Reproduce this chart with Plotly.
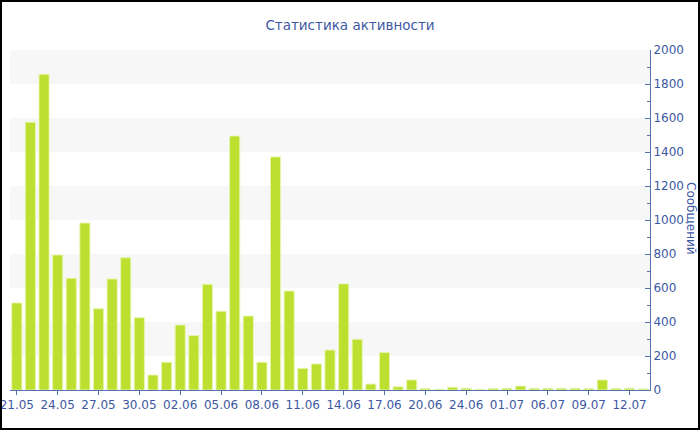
import plotly.graph_objects as go

dates = ["21.05", "22.05", "23.05", "24.05", "25.05", "26.05", "27.05", "28.05", "29.05", "30.05",
         "31.05", "01.06", "02.06", "03.06", "04.06", "05.06", "06.06", "07.06", "08.06", "09.06",
         "10.06", "11.06", "12.06", "13.06", "14.06", "15.06", "16.06", "17.06", "18.06", "19.06",
         "20.06", "21.06", "23.06", "24.06", "26.06", "29.06", "01.07", "03.07", "05.07", "06.07",
         "07.07", "08.07", "09.07", "10.07", "11.07", "12.07", "13.07"]
messages = [512, 1575, 1857, 794, 657, 982, 478, 653, 778, 425,
            88, 163, 382, 320, 622, 463, 1494, 435, 163, 1371,
            582, 127, 153, 235, 624, 298, 35, 220, 19, 59,
            8, 4, 16, 10, 4, 8, 10, 23, 10, 10,
            10, 10, 8, 59, 8, 10, 6]
tick_labels = dates[::3]
band_starts = [200, 600, 1000, 1400, 1800]
band_width = 200

title_text = "Статистика активности"
y_title = "Сообщений"

W, H = 700, 430
ml, mr, mt, mb = 10, 50, 50, 40
pw, ph = W - ml - mr, H - mt - mb

text_col = "#3d58a3"
line_col = "#5670b0"
font_family = "DejaVu Sans"

fig = go.Figure()
fig.add_trace(go.Bar(
    x=dates, y=messages,
    marker=dict(color="#bde030", line=dict(color="rgba(230,245,170,0.9)", width=1)),
    width=0.74,
))

shapes = []
for b in band_starts:
    shapes.append(dict(type="rect", xref="paper", yref="y", x0=0, x1=1, y0=b, y1=b + band_width,
                       fillcolor="#f7f7f7", line=dict(width=0), layer="below"))
# outer border of the whole image
shapes.append(dict(type="rect", xref="paper", yref="paper",
                   x0=(1 - ml) / pw, x1=1 + (mr - 1) / pw,
                   y0=-(mb - 1) / ph, y1=1 + (mt - 1) / ph,
                   line=dict(color="black", width=2), fillcolor="rgba(0,0,0,0)", layer="above"))

fig.update_layout(
    width=W, height=H,
    margin=dict(l=ml, r=mr, t=mt, b=mb, autoexpand=False),
    paper_bgcolor="white", plot_bgcolor="white",
    font=dict(family=font_family, size=12, color=text_col),
    title=dict(text=title_text, x=0.5, xref="container", xanchor="center", y=1 - 25 / H, yanchor="middle",
               font=dict(family=font_family, size=13.5, color=text_col)),
    showlegend=False,
    shapes=shapes,
    bargap=0.26,
    xaxis=dict(type="category", range=[-0.5, len(dates) - 0.5], tickmode="array",
               tickvals=tick_labels, ticktext=tick_labels, automargin=False,
               showline=True, linecolor=line_col, linewidth=1,
               ticks="outside", ticklen=4, tickcolor=line_col,
               showgrid=False, zeroline=False, tickangle=0,
               tickfont=dict(size=12, color=text_col)),
    yaxis=dict(side="right", range=[0, 2000], dtick=200, tick0=0, automargin=False,
               showline=True, linecolor=line_col, linewidth=1,
               ticks="inside", ticklen=5, tickcolor=line_col,
               minor=dict(dtick=100, ticks="inside", ticklen=3, tickcolor=line_col, showgrid=False),
               showgrid=False, zeroline=False,
               tickfont=dict(size=12, color=text_col)),
    annotations=[dict(text=y_title, xref="paper", yref="paper",
                      x=1 + (691 - ml - pw) / pw, y=1 - (218 - mt) / ph,
                      xanchor="center", yanchor="middle", showarrow=False, textangle=90,
                      font=dict(family=font_family, size=12, color=text_col))],
)

fig.write_html("out.html", config={"displayModeBar": False},
               post_script="document.body.style.margin='0';document.body.style.overflow='hidden';")
